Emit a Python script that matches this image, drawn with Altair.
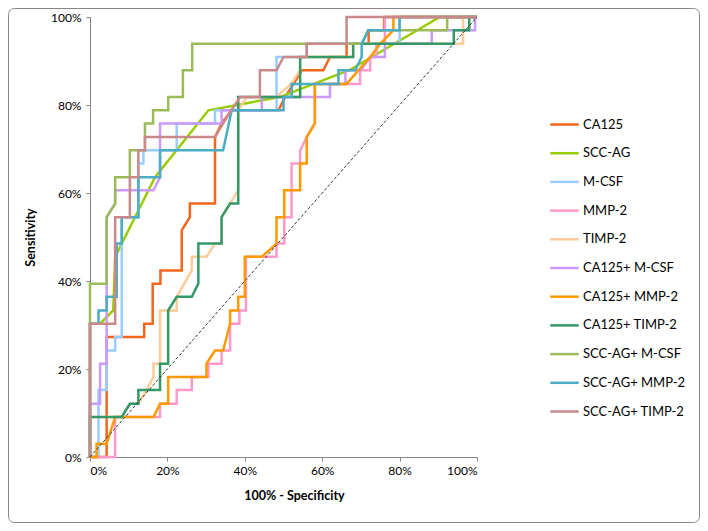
import altair as alt
import pandas as pd

# ROC curves: (100% - specificity, sensitivity) in percent
CA125 = [(0, 0), (4.3, 0), (4.3, 27.3), (14.0, 27.3), (14.0, 30.3), (16.2, 30.3), (16.2, 39.4),
         (18.2, 39.4), (18.2, 42.4), (23.7, 42.4), (23.7, 51.5), (25.8, 54.5), (25.8, 57.6),
         (32.3, 57.6), (32.3, 72.7), (34.0, 75.8), (36.6, 78.8), (48.7, 78.8), (50.4, 81.8),
         (52.6, 84.8), (54.7, 87.9), (60.3, 87.9), (62.0, 90.9), (66.3, 90.9), (66.3, 93.9),
         (72.0, 93.9), (72.0, 97.0), (76.0, 97.0), (76.0, 100), (100, 100)]
SCC_AG = [(0, 0), (0, 30.3), (2.6, 30.3), (6.0, 33.3), (6.5, 45.5), (16.8, 63.6), (30.6, 78.8),
          (49.0, 81.8), (67.0, 87.9), (90.4, 100), (100, 100)]
M_CSF = [(0, 0), (2.2, 0), (2.2, 15.2), (4.3, 15.2), (4.3, 24.2), (6.5, 24.2), (6.5, 27.3),
         (8.2, 27.3), (8.2, 54.5), (12.5, 54.5), (12.5, 66.7), (13.8, 66.7), (13.8, 69.7),
         (22.4, 69.7), (22.4, 75.8), (32.3, 75.8), (32.3, 78.8), (48.2, 78.8), (48.2, 90.9),
         (56.0, 90.9), (56.0, 93.9), (80.0, 93.9), (80.0, 100), (100, 100)]
MMP_2 = [(0, 0), (6.5, 0), (6.5, 9.1), (18.1, 9.1), (18.1, 12.1), (22.4, 12.1), (22.4, 15.2),
         (26.3, 15.2), (26.3, 18.2), (30.6, 18.2), (30.6, 21.2), (34.0, 21.2), (34.0, 24.2),
         (36.2, 24.2), (36.2, 30.3), (38.6, 30.3), (38.6, 33.3), (40.3, 33.3), (40.3, 45.5),
         (48.2, 45.5), (48.2, 48.5), (50.2, 48.5), (50.2, 54.5), (52.1, 54.5), (52.1, 66.7),
         (54.3, 66.7), (54.3, 69.7), (56.0, 72.7), (58.1, 75.8), (58.1, 84.8), (69.8, 84.8),
         (69.8, 87.9), (72.4, 87.9), (72.4, 90.9), (74.0, 90.9), (74.0, 93.9), (76.2, 93.9),
         (76.2, 100), (100, 100)]
TIMP_2 = [(0, 0), (0, 9.1), (8.2, 9.1), (10.3, 12.1), (12.5, 12.1), (14.6, 15.2), (16.4, 18.2),
          (16.4, 21.2), (18.1, 21.2), (18.1, 33.3), (22.4, 33.3), (22.4, 36.4), (26.3, 42.4),
          (26.3, 45.5), (30.1, 45.5), (32.3, 48.5), (34.0, 48.5), (34.0, 54.5), (36.2, 57.6),
          (38.3, 60.6), (38.3, 78.8), (40.5, 81.8), (48.0, 81.8), (52.0, 84.8), (54.3, 87.9),
          (54.3, 90.9), (68.0, 90.9), (68.0, 93.9), (96.4, 93.9), (96.4, 100), (100, 100)]
CA125_M_CSF = [(0, 0), (0, 12.1), (2.6, 12.1), (2.6, 21.2), (4.3, 21.2), (4.3, 54.5), (6.5, 57.6),
               (6.5, 60.6), (16.4, 60.6), (18.1, 63.6), (18.1, 75.8), (34.0, 75.8), (34.0, 78.8),
               (44.4, 78.8), (44.4, 81.8), (62.0, 81.8), (62.0, 84.8), (66.0, 84.8), (66.0, 87.9),
               (70.0, 87.9), (72.4, 90.9), (76.2, 90.9), (76.2, 93.9), (88.3, 93.9), (88.3, 97.0),
               (99.5, 97.0), (99.5, 100), (100, 100)]
CA125_MMP_2 = [(0, 0), (1.7, 0), (1.7, 3.0), (4.3, 3.0), (6.5, 9.1), (16.4, 9.1), (18.1, 12.1),
               (20.2, 12.1), (20.2, 18.2), (30.1, 18.2), (30.1, 21.2), (32.3, 24.2), (34.4, 24.2),
               (36.2, 30.3), (36.2, 33.3), (38.3, 33.3), (38.3, 36.4), (40.0, 36.4), (40.0, 45.5),
               (44.4, 45.5), (48.2, 48.5), (48.2, 54.5), (50.2, 54.5), (50.2, 60.6), (54.3, 60.6),
               (54.3, 66.7), (56.0, 66.7), (56.0, 72.7), (58.1, 75.8), (58.1, 84.8), (66.3, 84.8),
               (72.4, 90.9), (75.0, 93.9), (78.4, 97.0), (78.4, 100), (100, 100)]
CA125_TIMP_2 = [(0, 0), (0, 9.1), (8.2, 9.1), (10.3, 12.1), (12.5, 12.1), (12.5, 15.2), (18.1, 15.2),
                (18.1, 21.2), (20.2, 21.2), (20.2, 33.3), (22.4, 36.4), (26.3, 36.4), (28.0, 39.4),
                (28.0, 48.5), (34.0, 48.5), (34.0, 54.5), (36.2, 57.6), (38.3, 57.6), (38.3, 81.8),
                (54.3, 81.8), (54.3, 90.9), (68.0, 90.9), (68.0, 93.9), (94.0, 93.9), (94.0, 97.0),
                (98.0, 97.0), (98.0, 100), (100, 100)]
SCC_AG_M_CSF = [(0, 0), (0, 39.4), (4.3, 39.4), (4.3, 54.5), (6.5, 57.6), (6.5, 63.6), (10.3, 63.6),
                (10.3, 69.7), (14.2, 69.7), (14.2, 75.8), (16.3, 75.8), (16.3, 78.8), (20.2, 78.8),
                (20.2, 81.8), (24.0, 81.8), (24.0, 87.9), (26.4, 87.9), (26.4, 93.9), (70.2, 93.9),
                (71.8, 97.0), (92.3, 97.0), (92.3, 100), (100, 100)]
SCC_AG_MMP_2 = [(0, 0), (0, 30.3), (2.2, 30.3), (2.2, 33.3), (4.3, 33.3), (4.3, 36.4), (6.9, 36.4),
                (6.9, 48.5), (8.2, 48.5), (8.2, 54.5), (12.5, 54.5), (12.5, 63.6), (18.1, 63.6),
                (18.1, 69.7), (34.4, 69.7), (36.6, 78.8), (50.0, 78.8), (50.0, 81.8), (52.1, 81.8),
                (52.1, 84.8), (64.2, 84.8), (64.2, 87.9), (68.5, 87.9), (70.2, 90.9), (70.2, 93.9),
                (72.0, 97.0), (80.0, 97.0), (80.0, 100), (100, 100)]
SCC_AG_TIMP_2 = [(0, 0), (0, 30.3), (6.5, 30.3), (6.5, 54.5), (10.3, 54.5), (10.3, 63.6), (12.5, 63.6),
                 (12.5, 69.7), (14.2, 69.7), (14.2, 72.7), (32.3, 72.7), (34.4, 75.8), (36.5, 78.8),
                 (38.8, 81.8), (43.9, 81.8), (43.9, 87.9), (48.2, 87.9), (50.0, 90.9), (56.0, 90.9),
                 (56.0, 93.9), (66.3, 93.9), (66.3, 100), (100, 100)]

SERIES_NAMES = ["CA125", "SCC-AG", "M-CSF", "MMP-2", "TIMP-2", "CA125+ M-CSF", "CA125+ MMP-2",
                "CA125+ TIMP-2", "SCC-AG+ M-CSF", "SCC-AG+ MMP-2", "SCC-AG+ TIMP-2"]
SERIES_POINTS = [CA125, SCC_AG, M_CSF, MMP_2, TIMP_2, CA125_M_CSF, CA125_MMP_2, CA125_TIMP_2,
                 SCC_AG_M_CSF, SCC_AG_MMP_2, SCC_AG_TIMP_2]
COLORS = ["#F4661B", "#99CC00", "#99CCFF", "#FF99CC", "#FFCC99", "#CC99FF", "#FF9900",
          "#339966", "#9BBB59", "#4BACC6", "#C9898A"]
TICKS = [0, 20, 40, 60, 80, 100]
REF_LINE = [(0, 0), (100, 100)]

rows = []
for name, pts in zip(SERIES_NAMES, SERIES_POINTS):
    for i, (x, y) in enumerate(pts):
        rows.append({"series": name, "idx": i, "fpr": x, "tpr": y})
df = pd.DataFrame(rows)
ref_df = pd.DataFrame([{"idx": i, "fpr": x, "tpr": y} for i, (x, y) in enumerate(REF_LINE)])

FONT = "Lato"
xscale = alt.Scale(domain=[0, 100], nice=False, zero=False)
yscale = alt.Scale(domain=[0, 100], nice=False, zero=False)
color_scale = alt.Scale(domain=SERIES_NAMES, range=COLORS)

x_axis = alt.Axis(values=TICKS, labelExpr="datum.value + '%'", title="100% - Specificity",
                  grid=False, domainColor="#868686", tickColor="#868686", tickSize=4,
                  labelFontSize=12, labelFont=FONT, labelColor="#000", labelPadding=4,
                  titleFont=FONT, titleFontSize=12.5, titleFontWeight="bold", titleColor="#000",
                  titlePadding=13, titleX=204, titleAlign="center")
y_axis = alt.Axis(values=TICKS, labelExpr="datum.value + '%'", title="Sensitivity",
                  grid=False, domainColor="#868686", tickColor="#868686", tickSize=4,
                  labelFontSize=12, labelFont=FONT, labelColor="#000", labelPadding=5,
                  titleFont=FONT, titleFontSize=12.5, titleFontWeight="bold", titleColor="#000",
                  titlePadding=13)

legend = alt.Legend(title=None, orient="none", legendX=459, legendY=92, padding=0,
                    symbolType="stroke", symbolSize=810, symbolStrokeWidth=2.5,
                    labelFont=FONT, labelFontSize=13, labelColor="#000", labelOffset=3,
                    rowPadding=5.7, values=SERIES_NAMES)

border = alt.Chart(pd.DataFrame({"a": [0]})).mark_rect(
    fillOpacity=0, stroke="#868686", strokeWidth=1, cornerRadius=6
).encode(x=alt.value(-81.5), x2=alt.value(609.5), y=alt.value(-8.5), y2=alt.value(505.5))

layers = [border]
for i, name in enumerate(SERIES_NAMES):
    layers.append(
        alt.Chart(df[df["series"] == name]).mark_line(strokeWidth=2.5, strokeJoin="miter").encode(
            x=alt.X("fpr:Q", scale=xscale, axis=x_axis),
            y=alt.Y("tpr:Q", scale=yscale, axis=y_axis),
            color=alt.Color("series:N", scale=color_scale, legend=legend),
            order=alt.Order("idx:Q"),
        )
    )
layers.append(
    alt.Chart(ref_df).mark_line(color="#333333", strokeWidth=1, strokeDash=[3, 2]).encode(
        x=alt.X("fpr:Q", scale=xscale), y=alt.Y("tpr:Q", scale=yscale), order="idx:Q"
    )
)

chart = alt.layer(*layers).properties(
    width=387, height=440,
    padding={"left": 82, "top": 9, "right": 223, "bottom": 66},
    autosize=alt.AutoSizeParams(type="none"),
    background="white",
).configure_view(stroke=None)

chart.save("out.html", embed_options={"renderer": "svg", "actions": False})
